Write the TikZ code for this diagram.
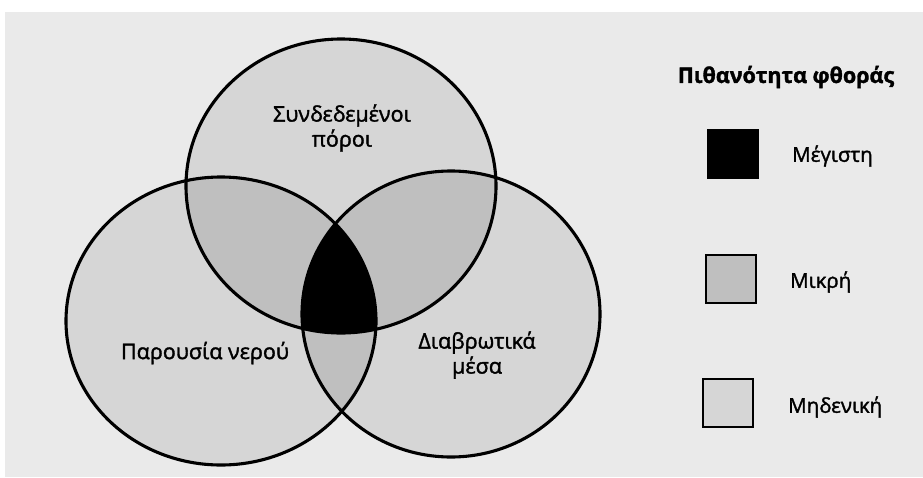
\documentclass[tikz,border=0pt]{standalone}
\usepackage{fontspec}
\setmainfont{Open Sans}[FakeBold=1.6]
\definecolor{paper}{HTML}{EAEAEA}
\definecolor{lightg}{HTML}{D6D6D6}
\definecolor{darkg}{HTML}{BFBFBF}
\begin{document}
\begin{tikzpicture}[x=1pt,y=-1pt,
  outline/.style={draw=black,line width=3.1pt},
  lbl/.style={font=\fontsize{21.5}{26}\selectfont,align=center,inner sep=0pt},
  legbox/.style={draw=black,line width=2.8pt,minimum width=50pt,minimum height=48pt,inner sep=0pt},
  leglbl/.style={font=\fontsize{20.5}{25}\selectfont,anchor=west,inner sep=0pt}]
\useasboundingbox (0,0) rectangle (923,477);
\fill[white] (0,0) rectangle (923,477);
\fill[paper] (5,12) rectangle (923,477);
% circles
\def\ctop{(341,186) ellipse [x radius=155, y radius=147]}
\def\cleft{(221,321) ellipse [x radius=155, y radius=144]}
\def\cright{(451,314) ellipse [x radius=149, y radius=143]}
\fill[lightg] \ctop;
\fill[lightg] \cleft;
\fill[lightg] \cright;
\begin{scope}\clip \ctop; \fill[darkg] \cleft; \fill[darkg] \cright;\end{scope}
\begin{scope}\clip \cleft; \fill[darkg] \cright;\end{scope}
\begin{scope}\clip \ctop; \clip \cleft; \fill[black] \cright;\end{scope}
\draw[outline] \ctop;
\draw[outline] \cleft;
\draw[outline] \cright;
% labels
\node[lbl] (ltop) at (342,128) {Συνδεδεμένοι\\[-1pt]πόροι};
\node[lbl] (lleft) at (205,353) {Παρουσία νερού};
\node[lbl] (lright) at (477,355) {Διαβρωτικά\\[-1pt]μέσα};
% legend
\node[font=\bfseries\fontsize{21.5}{25}\selectfont,inner sep=0pt] (title) at (786,77) {Πιθανότητα φθοράς};
\node[legbox,fill=black] (b1) at (733,154) {};
\node[legbox,fill=darkg] (b2) at (731,279) {};
\node[legbox,fill=lightg] (b3) at (728,403) {};
\node[leglbl] (t1) at (792,156) {Μέγιστη};
\node[leglbl] (t2) at (790,282) {Μικρή};
\node[leglbl] (t3) at (788,407) {Μηδενική};
\end{tikzpicture}
\end{document}
